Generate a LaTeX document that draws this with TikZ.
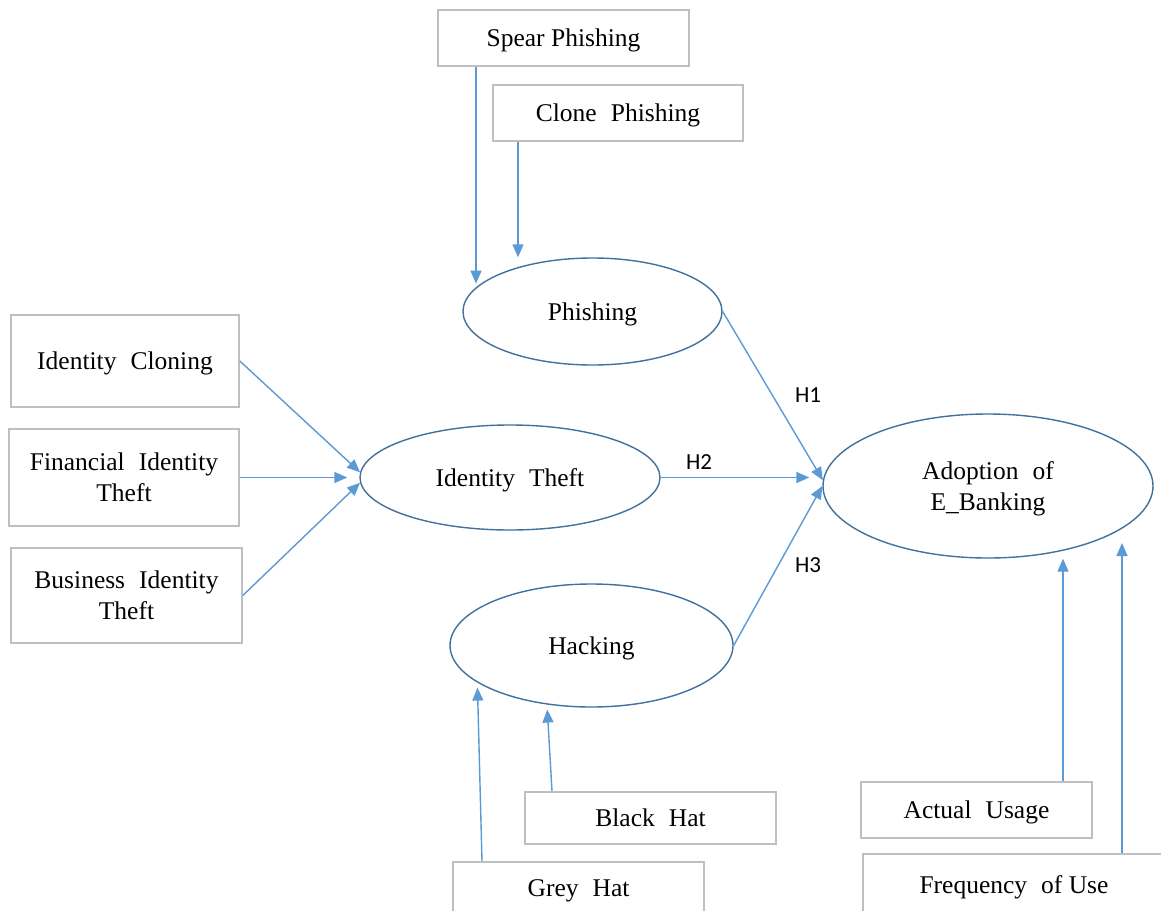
\documentclass[tikz,border=0pt]{standalone}
\usepackage{fontspec}
\setmainfont{Liberation Serif}
\newfontfamily\hfont{Carlito}
\usetikzlibrary{shapes.geometric,arrows.meta,calc}
\definecolor{boxgray}{HTML}{BFBFBF}
\definecolor{ovalblue}{HTML}{41719C}
\definecolor{linkblue}{HTML}{5B9BD5}
\newcommand\wsp{\hspace{0.55em}}
\begin{document}
\begin{tikzpicture}[x=1pt,y=-1pt,
  every node/.style={font=\fontsize{25.5}{31}\selectfont, align=center, inner sep=0pt, text depth=0pt},
  box/.style={draw=boxgray, line width=1.6pt, rectangle},
  oval/.style={draw=ovalblue, line width=1.4pt, ellipse},
  link/.style={draw=linkblue, line width=1.4pt, -{Triangle[length=13pt,width=11pt]}},
  hyp/.style={font=\hfont\fontsize{23}{26}\selectfont}]
\fill[white] (0,0) rectangle (1161,910);
\useasboundingbox (0,0) rectangle (1161,910);

% indicator boxes
\node[box, minimum width=251pt, minimum height=56pt] (spear) at (563.5,38) {Spear Phishing};
\node[box, minimum width=250pt, minimum height=56pt] (clone) at (618,113) {Clone\wsp Phishing};
\node[box, minimum width=228pt, minimum height=92pt] (icl) at (125,361) {Identity\wsp Cloning};
\node[box, minimum width=230pt, minimum height=97pt] (fin) at (124,477.5) {Financial\wsp Identity\\Theft};
\node[box, minimum width=231pt, minimum height=95pt] (biz) at (126.5,595.5) {Business\wsp Identity\\Theft};
\node[box, minimum width=251pt, minimum height=52pt] (bh) at (650.5,818) {Black\wsp Hat};
\node[box, minimum width=251pt, minimum height=52pt] (gh) at (578.5,888) {Grey\wsp Hat};
\node[box, minimum width=231pt, minimum height=56pt] (au) at (976.5,810) {Actual\wsp Usage};
\node[box, minimum width=302pt, minimum height=62pt] (fu) at (1014,885) {Frequency\wsp of Use};

% constructs
\node[oval, minimum width=259pt, minimum height=107pt] (phish) at (592.5,311.5) {Phishing};
\node[oval, minimum width=300pt, minimum height=105pt] (idt) at (510,477.5) {Identity\wsp Theft};
\node[oval, minimum width=283pt, minimum height=123pt] (hack) at (591.5,645.5) {Hacking};
\node[oval, minimum width=330pt, minimum height=144pt] (adopt) at (988,486) {Adoption\wsp of\\E\_Banking};

% start points of the indicator arrows
\coordinate (sp1) at ([xshift=-87.5pt]spear.south);
\coordinate (cl1) at ([xshift=-100pt]clone.south);
\coordinate (bh1) at ([xshift=-98.5pt]bh.north);
\coordinate (gh1) at ([xshift=-96.5pt]gh.north);
\coordinate (au1) at ([xshift=86.5pt]au.north);
\coordinate (fu1) at ([xshift=108pt]fu.north);

% indicators -> constructs
\draw[link] (sp1) -- (sp1 |- phish.166);
\draw[link] (cl1) -- (cl1 |- phish.north);
\draw[link] (icl.east) -- (idt.178);
\draw[link, shorten >=12pt] (fin.east) -- (idt.west);
\draw[link] (biz.east) -- (idt.182);
\draw[link, shorten >=5pt] (bh1) -- (hack.233);
\draw[link, shorten >=5pt] (gh1) -- (hack.198);
\draw[link] (au1) -- (au1 |- adopt.south);
\draw[link] (fu1) -- ($(fu1 |- adopt.center)+(0,57)$);

% hypotheses
\draw[link] (phish.east) -- (adopt.178);
\draw[link, shorten >=13pt] (idt.east) -- (idt.east -| adopt.west);
\draw[link] (hack.east) -- (adopt.west);

\node[hyp] (h1) at (808,395) {H1};
\node[hyp] (h2) at (699,462) {H2};
\node[hyp] (h3) at (808,565) {H3};
\end{tikzpicture}
\end{document}
